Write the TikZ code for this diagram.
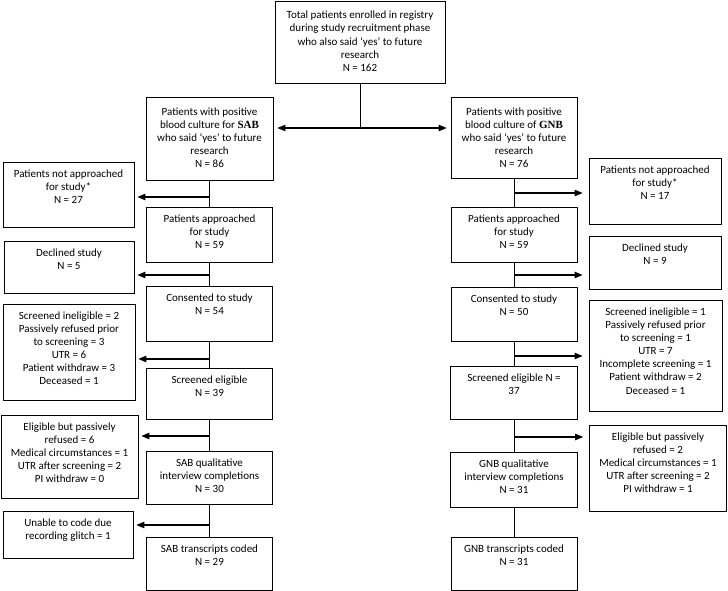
\documentclass[tikz,border=0pt]{standalone}
\usepackage{fontspec}
\setmainfont{Carlito}
\newfontfamily\sabfont{Liberation Serif}
\usetikzlibrary{arrows.meta}
\tikzset{every picture/.append style={x=1pt, y=-1pt}}
\tikzset{
    box/.style={draw, line width=0.8pt, inner sep=0pt, anchor=north,
    	font=\fontsize{11}{13.1}\selectfont},
    link/.style={line width=1pt},
    side/.style={line width=1.1pt, -{Triangle[length=8pt, width=6.5pt]}, shorten >=3pt},
    both/.style={line width=1.1pt, {Triangle[length=8pt, width=6.5pt]}-{Triangle[length=8pt, width=6.5pt]},
    	shorten <=4pt, shorten >=4pt}
}
\newcommand{\boxtext}[4][15pt]{\parbox[c][#3][t]{#2}{\centering\rule{0pt}{#1}#4}}

\begin{document}
\begin{tikzpicture}
	\useasboundingbox (0,0) rectangle (728,591);
	\node (top) [box] at (360,1) {\boxtext[17.5pt]{170pt}{82pt}{Total patients enrolled in registry\\during study recruitment phase\\who also said ‘yes’ to future\\research\\N = 162}};

	% SAB column
	\node (s0) [box] at (209.5,97) {\boxtext[18pt]{127pt}{83pt}{Patients with positive\\blood culture for {\sabfont\bfseries SAB}\\who said ‘yes’ to future\\research\\N = 86}};
	\node (s1) [box] at (209.5,207) {\boxtext{126pt}{55pt}{Patients approached\\for study\\N = 59}};
	\node (s2) [box] at (209.5,286) {\boxtext{126pt}{55pt}{Consented to study\\N = 54}};
	\node (s3) [box] at (209.5,368) {\boxtext{126pt}{51pt}{Screened eligible\\N = 39}};
	\node (s4) [box] at (209.5,451) {\boxtext{126pt}{53pt}{SAB qualitative\\interview completions\\N = 30}};
	\node (s5) [box] at (209.5,537) {\boxtext{126pt}{52.5pt}{SAB transcripts coded\\N = 29}};

	\node (sx1) [box] at (68.5,162) {\boxtext{131pt}{65pt}{Patients not approached\\for study*\\N = 27}};
	\node (sx2) [box] at (69,241) {\boxtext{130pt}{52pt}{Declined study\\N = 5}};
	\node (sx3) [box] at (69,304) {\boxtext{132pt}{96pt}{Screened ineligible = 2\\Passively refused prior\\to screening = 3\\UTR = 6\\Patient withdraw = 3\\Deceased = 1}};
	\node (sx4) [box] at (69.5,415) {\boxtext{137pt}{83pt}{Eligible but passively\\refused = 6\\Medical circumstances = 1\\UTR after screening = 2\\PI withdraw = 0}};
	\node (sx5) [box] at (68,511) {\boxtext{130pt}{47pt}{Unable to code due\\recording glitch = 1}};

	% GNB column
	\node (g0) [box] at (514,97) {\boxtext[18pt]{126pt}{81pt}{Patients with positive\\blood culture of {\sabfont\bfseries GNB}\\who said ‘yes’ to future\\research\\N = 76}};
	\node (g1) [box] at (514,207) {\boxtext{126pt}{55pt}{Patients approached\\for study\\N = 59}};
	\node (g2) [box] at (514,287) {\boxtext{126pt}{54pt}{Consented to study\\N = 50}};
	\node (g3) [box] at (514,366) {\boxtext{127pt}{53pt}{Screened eligible N =\\37}};
	\node (g4) [box] at (514,452) {\boxtext{127pt}{55pt}{GNB qualitative\\interview completions\\N = 31}};
	\node (g5) [box] at (514,537) {\boxtext{126pt}{52.5pt}{GNB transcripts coded\\N = 31}};

	\node (gx1) [box] at (655,158) {\boxtext{132pt}{66pt}{Patients not approached\\for study*\\N = 17}};
	\node (gx2) [box] at (655,236) {\boxtext{132pt}{53pt}{Declined study\\N = 9}};
	\node (gx3) [box] at (655.5,300) {\boxtext{133pt}{111pt}{Screened ineligible = 1\\Passively refused prior\\to screening = 1\\UTR = 7\\Incomplete screening = 1\\Patient withdraw = 2\\Deceased = 1}};
	\node (gx4) [box] at (658,425) {\boxtext{137pt}{86pt}{Eligible but passively\\refused = 2\\Medical circumstances = 1\\UTR after screening = 2\\PI withdraw = 1}};

	% split
	\coordinate (mid) at (360,128);
	\draw[link] (top) -- (mid);
	\draw[both] (mid -| s0.east) -- (mid -| g0.west);

	\draw[link] (s0) -- (s1); \draw[link] (s1) -- (s2); \draw[link] (s2) -- (s3);
	\draw[link] (s3) -- (s4); \draw[link] (s4) -- (s5);
	\draw[link] (g0) -- (g1); \draw[link] (g1) -- (g2); \draw[link] (g2) -- (g3);
	\draw[link] (g3) -- (g4); \draw[link] (g4) -- (g5);

	\coordinate (sa1) at (209.5,197); \coordinate (sa2) at (209.5,275);
	\coordinate (sa3) at (209.5,359); \coordinate (sa4) at (209.5,436);
	\coordinate (sa5) at (209.5,525);
	\draw[side] (sa1) -- (sa1 -| sx1.east); \draw[side] (sa2) -- (sa2 -| sx2.east);
	\draw[side] (sa3) -- (sa3 -| sx3.east); \draw[side] (sa4) -- (sa4 -| sx4.east);
	\draw[side] (sa5) -- (sa5 -| sx5.east);

	\coordinate (ga1) at (514,193); \coordinate (ga2) at (514,275);
	\coordinate (ga3) at (514,356); \coordinate (ga4) at (514,437);
	\draw[side, shorten >=6pt] (ga1) -- (ga1 -| gx1.west);
	\draw[side, shorten >=6pt] (ga2) -- (ga2 -| gx2.west);
	\draw[side, shorten >=6pt] (ga3) -- (ga3 -| gx3.west);
	\draw[side, shorten >=6pt] (ga4) -- (ga4 -| gx4.west);
\end{tikzpicture}
\end{document}
